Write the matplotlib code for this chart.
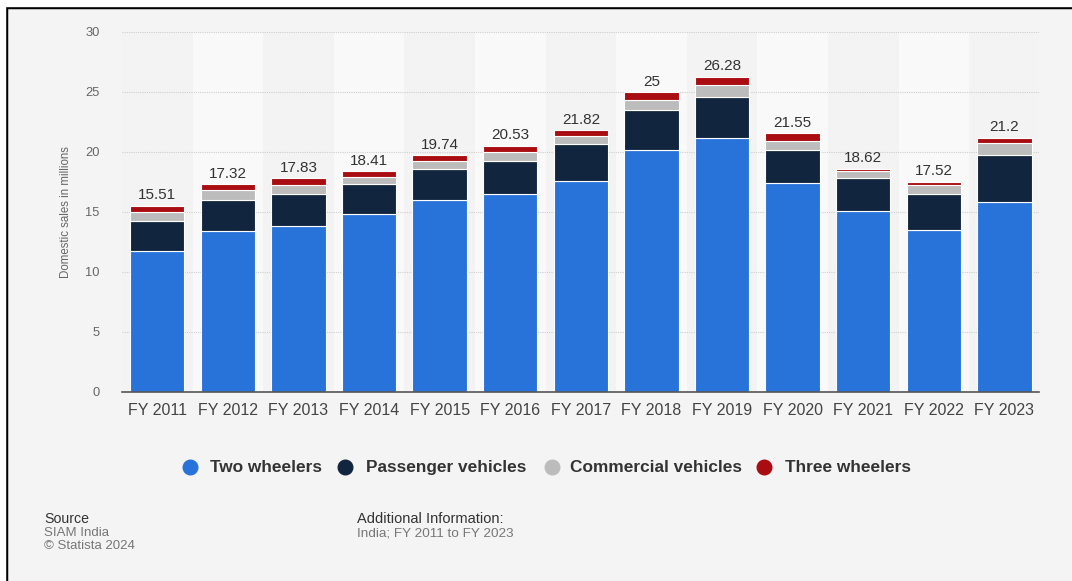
import numpy as np
import matplotlib.pyplot as plt
from matplotlib.lines import Line2D
from matplotlib.patches import Rectangle

plt.rcParams['font.family'] = ['Liberation Sans', 'DejaVu Sans']

# Domestic automobile sales in India, millions of units
years = ['FY 2011', 'FY 2012', 'FY 2013', 'FY 2014', 'FY 2015', 'FY 2016', 'FY 2017',
         'FY 2018', 'FY 2019', 'FY 2020', 'FY 2021', 'FY 2022', 'FY 2023']
two_wheelers = [11.77, 13.41, 13.80, 14.81, 16.00, 16.46, 17.59, 20.19, 21.18, 17.42, 15.12, 13.47, 15.86]
passenger = [2.50, 2.63, 2.69, 2.50, 2.60, 2.79, 3.05, 3.29, 3.38, 2.77, 2.71, 3.07, 3.89]
commercial = [0.71, 0.77, 0.80, 0.62, 0.61, 0.74, 0.67, 0.88, 1.02, 0.72, 0.57, 0.72, 0.96]
three_wheelers = [0.53, 0.51, 0.54, 0.48, 0.53, 0.54, 0.51, 0.64, 0.70, 0.64, 0.22, 0.26, 0.49]

series = [two_wheelers, passenger, commercial, three_wheelers]
names = ['Two wheelers', 'Passenger vehicles', 'Commercial vehicles', 'Three wheelers']
colors = ['#2873d9', '#11263e', '#bcbcbc', '#a90d11']

fig = plt.figure(figsize=(10.72, 5.81), dpi=100, facecolor='#f4f4f4')
ax = fig.add_axes([122/1072, 1 - 392/581, (1039-122)/1072, 360/581])
ax.set_facecolor('#f3f3f3')

x = np.arange(len(years))

# alternating column bands
for i in x:
    if i % 2 == 1:
        ax.axvspan(i - 0.5, i + 0.5, color='#f9f9f9', zorder=0, lw=0)

for yv in range(5, 31, 5):
    ax.axhline(yv, color='#cfcfcf', lw=0.8, ls=(0, (1, 1)), zorder=1)

bottom = np.zeros(len(years))
for vals, name, col in zip(series, names, colors):
    ax.bar(x, vals, 0.77, bottom=bottom, color=col, edgecolor='white', lw=0.8, zorder=3, label=name)
    bottom += np.array(vals)

for i, tot in enumerate(bottom):
    ax.annotate(f'{round(tot, 2):g}', (i, tot), xytext=(0, 2.5), textcoords='offset points',
                ha='center', va='bottom', fontsize=11, color='#333333')

ax.set_xlim(-0.5, 12.49)
ax.set_ylim(0, 30)
ax.set_yticks(range(0, 31, 5))
ax.set_xticks(x)
ax.set_xticklabels(years, fontsize=11.5, color='#444444')
ax.tick_params(axis='y', length=0, pad=16, labelsize=9.3, labelcolor='#666666')
ax.tick_params(axis='x', length=0, pad=8)
for s in ['top', 'right', 'left']:
    ax.spines[s].set_visible(False)
ax.spines['bottom'].set_color('#555555')
ax.spines['bottom'].set_linewidth(1.2)
ax.spines['bottom'].set_zorder(4)

fig.text(66/1072, 1 - 212/581, 'Domestic sales in millions', rotation=90, ha='center', va='center',
         fontsize=8.3, color='#666666')

# legend row: dot + label, text on a common baseline
leg_dots = [190, 345, 552, 764]
leg_text = [210, 366, 570, 785]
for xd, xt, name, col in zip(leg_dots, leg_text, names, colors):
    fig.add_artist(Line2D([xd/1072], [1 - 467/581], transform=fig.transFigure, marker='o',
                          markersize=10.5, color=col, ls=''))
    fig.text(xt/1072, 1 - 472/581, name, fontsize=12.4, fontweight='bold', color='#333333', va='baseline')

# footer
fig.text(44/1072, 1 - 519/581, 'Source', fontsize=10.2, color='#333333', va='center')
fig.text(44/1072, 1 - 533/581, 'SIAM India', fontsize=9.5, color='#777777', va='center')
fig.text(44/1072, 1 - 546/581, '\u00a9 Statista 2024', fontsize=9.5, color='#777777', va='center')
fig.text(357/1072, 1 - 519/581, 'Additional Information:', fontsize=10.5, color='#333333', va='center')
fig.text(357/1072, 1 - 533/581, 'India; FY 2011 to FY 2023', fontsize=9.7, color='#777777', va='center')

# white margin and black frame on top and left
fig.patches.append(Rectangle((0, 1 - 6/581), 1, 6/581, transform=fig.transFigure, color='white', zorder=5))
fig.patches.append(Rectangle((0, 0), 5/1072, 1, transform=fig.transFigure, color='white', zorder=5))
fig.add_artist(Line2D([5/1072, 1], [1 - 7/581, 1 - 7/581], transform=fig.transFigure, color='black', lw=2.5))
fig.add_artist(Line2D([6/1072, 6/1072], [0, 1 - 6/581], transform=fig.transFigure, color='black', lw=2.5))

fig.savefig('out.png', dpi=100, facecolor=fig.get_facecolor())
